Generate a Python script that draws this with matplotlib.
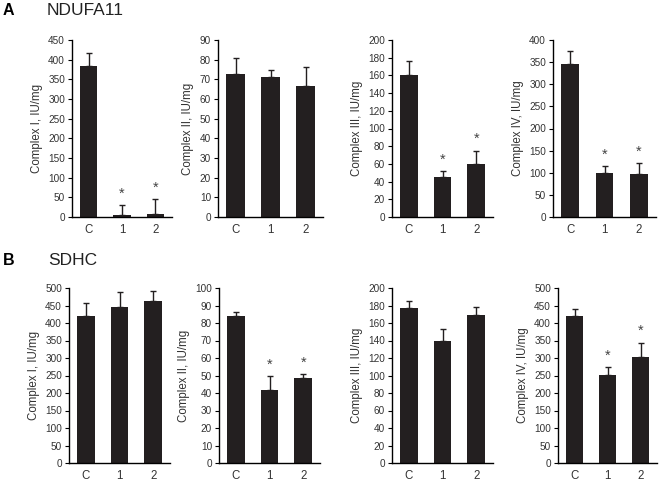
import matplotlib
matplotlib.use('Agg')
import matplotlib.pyplot as plt

plt.rcParams['font.family'] = ['Liberation Sans', 'DejaVu Sans']

groups = ['C', '1', '2']

# panel A: NDUFA11
a_means = [[385, 5, 8], [72.5, 71, 66.5], [160, 45, 60], [345, 100, 98]]
a_errs = [[33, 25, 37], [8.5, 3.5, 10], [16, 7, 15], [31, 15, 23]]
a_stars = [[False, True, True], [False, False, False], [False, True, True], [False, True, True]]
a_ylims = [(450, 50), (90, 10), (200, 20), (400, 50)]

# panel B: SDHC
b_means = [[420, 446, 464], [84, 42, 48.5], [177, 139, 169], [420, 252, 304]]
b_errs = [[37, 43, 27], [2.5, 7.5, 2.5], [8, 14, 9], [20, 23, 40]]
b_stars = [[False, False, False], [False, True, True], [False, False, False], [False, True, True]]
b_ylims = [(500, 50), (100, 10), (200, 20), (500, 50)]

ylabels = ['Complex I, IU/mg', 'Complex II, IU/mg', 'Complex III, IU/mg', 'Complex IV, IU/mg']

W, H = 659, 484
# axes boxes in pixels: left, right, top, bottom
a_boxes = [(72, 172, 40, 217), (218, 323, 40, 217), (392, 493, 40, 217), (553, 656, 40, 217)]
b_boxes = [(69, 170, 288, 463), (219, 320, 288, 463), (392, 493, 288, 463), (558, 657, 288, 463)]

fig = plt.figure(figsize=(W / 100, H / 100), dpi=100)


def draw(box, means, errs, stars, ylim, ylabel):
    l, r, t, b = box
    ax = fig.add_axes([l / W, 1 - b / H, (r - l) / W, (b - t) / H])
    x = range(len(groups))
    ax.bar(x, means, width=0.52, color='#231f20', zorder=2)
    ax.errorbar(x, means, yerr=[[0] * 3, errs], fmt='none', ecolor='#231f20',
                elinewidth=1, capsize=2.5, capthick=1, zorder=3)
    top, step = ylim
    for i, s in enumerate(stars):
        if s:
            ax.text(i, means[i] + errs[i] + top * 0.025, '*', ha='center', va='bottom',
                    fontsize=10.5, color='#444444')
    ax.set_xlim(-0.5, 2.5)
    ax.set_ylim(0, top)
    ax.set_yticks(range(0, top + 1, step))
    ax.set_xticks(list(x))
    ax.set_xticklabels(groups, fontsize=8.3, color='#333333')
    ax.tick_params(axis='x', length=0, pad=5)
    ax.tick_params(axis='y', length=3, width=0.8, direction='out', labelsize=7.2,
                   labelcolor='#333333', pad=2)
    for s in ['top', 'right']:
        ax.spines[s].set_visible(False)
    for s in ['left', 'bottom']:
        ax.spines[s].set_linewidth(1)
    ax.set_ylabel(ylabel, fontsize=8.3, color='#333333', labelpad=4)
    return ax


for i in range(4):
    draw(a_boxes[i], a_means[i], a_errs[i], a_stars[i], a_ylims[i], ylabels[i])
    draw(b_boxes[i], b_means[i], b_errs[i], b_stars[i], b_ylims[i], ylabels[i])

fig.text(3 / W, 1 - 15 / H, 'A', fontsize=11.5, fontweight='bold', va='baseline')
fig.text(47 / W, 1 - 15 / H, 'NDUFA11', fontsize=12.5, va='baseline', color='#222222')
fig.text(3 / W, 1 - 265 / H, 'B', fontsize=11.5, fontweight='bold', va='baseline')
fig.text(48 / W, 1 - 265 / H, 'SDHC', fontsize=12.5, va='baseline', color='#222222')

fig.savefig('out.png', dpi=100)
